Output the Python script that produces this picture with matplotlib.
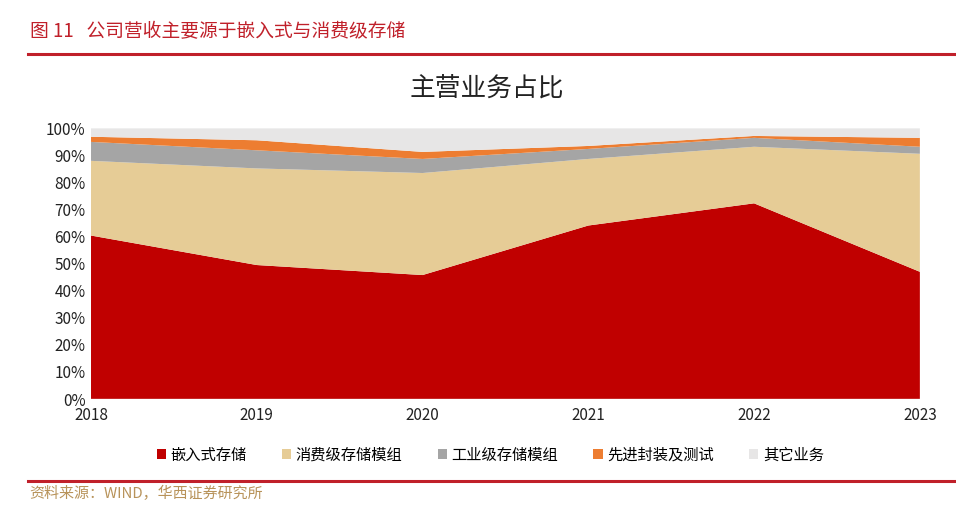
import numpy as np
import matplotlib.pyplot as plt
from matplotlib.patches import Patch
from matplotlib.lines import Line2D
from matplotlib.ticker import FuncFormatter

plt.rcParams['font.family'] = ['Noto Sans CJK SC', 'DejaVu Sans']

#-------------------------------------------------------------------------------
years = [2018, 2019, 2020, 2021, 2022, 2023]
series_names = ['嵌入式存储', '消费级存储模组', '工业级存储模组', '先进封装及测试', '其它业务']
embedded = [60.4, 49.5, 45.8, 64.1, 72.3, 47.0]
consumer = [27.6, 35.7, 37.7, 24.6, 20.9, 43.6]
industrial = [7.0, 6.7, 5.2, 3.7, 3.3, 2.6]
packaging = [1.9, 3.7, 2.6, 1.1, 0.7, 3.3]
others = [3.1, 4.4, 8.7, 6.5, 2.8, 3.5]
colors = ['#C00000', '#E6CC96', '#A5A5A5', '#ED7D31', '#E7E6E6']

#-------------------------------------------------------------------------------
fig = plt.figure(figsize=(9.56, 5.25), dpi=100)
ax = fig.add_axes([0.0952, 0.24, 0.867, 0.5155])

ax.stackplot(years, embedded, consumer, industrial, packaging, others,
             colors=colors, linewidth=0)
ax.set_xlim(years[0], years[-1])
ax.set_ylim(0, 100)
ax.set_xticks(years)
ax.set_yticks(np.arange(0, 101, 10))
ax.yaxis.set_major_formatter(FuncFormatter(lambda v, p: f"{v:.0f}%"))
ax.tick_params(axis='both', length=0, labelsize=11, colors='#222222')
ax.tick_params(axis='x', pad=6)
ax.tick_params(axis='y', pad=4)
for s in ax.spines.values():
    s.set_visible(False)
ax.axhline(0, color='#D9D9D9', lw=1)

# chart title
fig.text(0.509, 0.832, '主营业务占比', ha='center', va='center', fontsize=18.5,
         color='#222222')

# legend
handles = [Patch(facecolor=c, edgecolor='none') for c in colors]
fig.legend(handles, series_names, loc='center', bbox_to_anchor=(0.513, 0.133),
           ncol=5, frameon=False, fontsize=11, handlelength=0.6, handleheight=0.6,
           handletextpad=0.3, columnspacing=2.3)

# header / footer
fig.text(0.031, 0.939, '图 11   公司营收主要源于嵌入式与消费级存储', ha='left', va='center',
         fontsize=13.5, color='#C0202A')
fig.add_artist(Line2D([0.029, 1.0], [0.897, 0.897], transform=fig.transFigure,
                      color='#C0202A', lw=2.2))
fig.add_artist(Line2D([0.029, 1.0], [0.084, 0.084], transform=fig.transFigure,
                      color='#C0202A', lw=2.2))
fig.text(0.031, 0.061, '资料来源：WIND，华西证券研究所', ha='left', va='center',
         fontsize=10.8, color='#B8935A')

fig.savefig('out.png', dpi=100)
